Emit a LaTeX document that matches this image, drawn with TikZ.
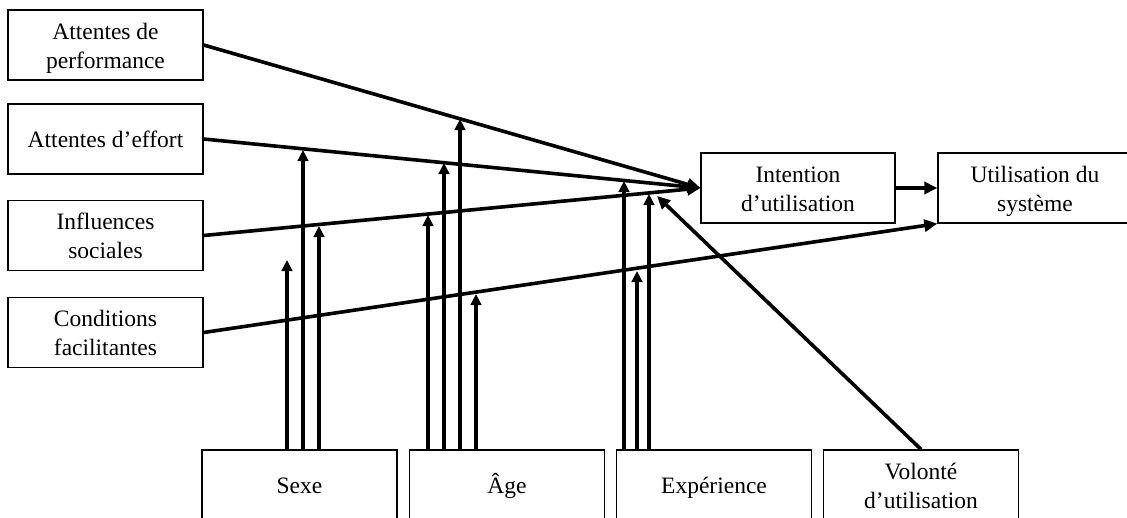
\documentclass[tikz,border=0pt]{standalone}
\usepackage{fontspec}
\setmainfont{Liberation Serif}
\usetikzlibrary{arrows.meta}
\begin{document}
\begin{tikzpicture}[x=1pt,y=-1pt,
  box/.style={draw, line width=1.3pt, minimum width=195pt, minimum height=70pt,
    inner sep=0pt, align=center, font=\fontsize{23.5}{29}\selectfont,
    text height=47.5pt, text depth=1pt},
  oneline/.style={text height=18pt, text depth=2pt},
  link/.style={line width=3.6pt, -{Triangle[length=13pt,width=12pt]}},
  modarrow/.style={line width=3.6pt, -{Triangle[length=11pt,width=10.5pt]}},
]
\useasboundingbox (0,0) rectangle (1127,517);

% determinants
\node[box] (perf) at (105.5,45)  {Attentes de\\performance};
\node[box, oneline] (eff)  at (105.5,139) {Attentes d’effort};
\node[box] (soc)  at (105.5,235.5) {Influences\\sociales};
\node[box] (cond) at (105.5,332.5) {Conditions\\facilitantes};

% outcomes
\node[box, minimum width=194pt] (int)  at (798,188)  {Intention\\d’utilisation};
\node[box, minimum width=194pt] (util) at (1035,188) {Utilisation du\\système};

% moderators
\node[box, oneline] (sexe) at (299.5,485) {Sexe};
\node[box, oneline] (age)  at (507,485)   {Âge};
\node[box, oneline] (exp)  at (714,485)   {Expérience};
\node[box] (vol)  at (921,485)   {Volonté\\d’utilisation};

% main paths
\draw[link] (perf.east) -- (int.west);
\draw[link] (eff.east)  -- (int.west);
\draw[link] (soc.east)  -- (int.west);
\draw[link] (cond.east) -- (util.south west);
\draw[link] (int.east)  -- (util.west);

\coordinate (voltip) at (657,196);
\draw[link] (vol.north) -- (voltip);

% moderating effects
\coordinate (s1) at (287,260);
\coordinate (s2) at (303,150);
\coordinate (s3) at (319,226);
\coordinate (a1) at (428,215);
\coordinate (a2) at (444,163);
\coordinate (a3) at (460,119);
\coordinate (a4) at (476,294);
\coordinate (e1) at (624,181);
\coordinate (e2) at (637,271);
\coordinate (e3) at (649,194);

\foreach \t in {s1,s2,s3} \draw[modarrow] (sexe.north -| \t) -- (\t);
\foreach \t in {a1,a2,a3,a4} \draw[modarrow] (age.north -| \t) -- (\t);
\foreach \t in {e1,e2,e3} \draw[modarrow] (exp.north -| \t) -- (\t);
\end{tikzpicture}
\end{document}
